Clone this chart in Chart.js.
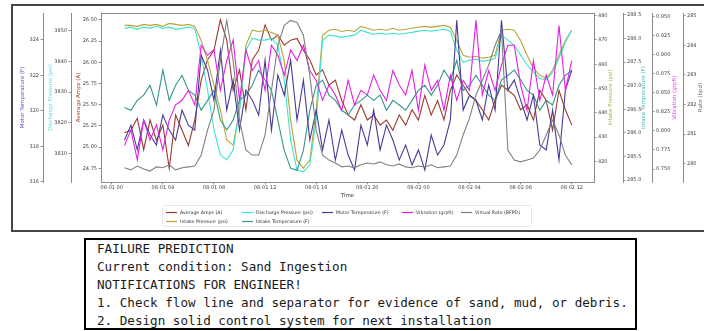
<!DOCTYPE html>
<html><head><meta charset="utf-8">
<script src="https://cdn.jsdelivr.net/npm/chart.js@4"></script>
<style>
html,body{margin:0;padding:0;background:#fff;overflow:hidden;width:704px;height:331px;}
#frame{position:absolute;left:11px;top:4px;width:700px;height:228px;border:2.5px solid #454545;box-sizing:border-box;}
#wrap{position:absolute;left:0;top:0;width:704px;height:232px;}
#note{position:absolute;left:84px;top:238px;width:553px;height:92px;border:2px solid #000;box-sizing:border-box;font-family:'DejaVu Sans Mono',monospace;font-size:12.6px;line-height:18px;padding:0 0 0 11px;color:#1a1a1a;white-space:pre;}
</style></head>
<body>
<div id="frame"></div>
<div id="wrap"><canvas id="c" width="704" height="232"></canvas></div>
<div id="note">FAILURE PREDICTION
Current condition: Sand Ingestion
NOTIFICATIONS FOR ENGINEER!
1. Check flow line and separator for evidence of sand, mud, or debris.
2. Design solid control system for next installation</div>
<script>
// ---- data (hours since 08-01 00:00) ----
const hours = [1,1.5,2,2.5,3,3.5,4,4.5,5,5.5,6,6.5,7,7.5,8,8.5,9,9.5,10,10.5,11,11.5,12,12.5,13,13.5,14,14.5,15,15.5,16,16.5,17,17.5,18,18.5,19,19.5,20,20.5,21,21.5,22,22.5,23,23.5,24,24.5,25,25.5,26,26.5,27,27.5,28,28.5,29,29.5,30,30.5,31,31.5,32,32.5,33,33.5,34,34.5,35,35.5,36];
const tickHours = [0,4,8,12,16,20,24,28,32,36];
const tickLabels = ['08-01 00','08-01 04','08-01 08','08-01 12','08-01 16','08-01 20','08-02 00','08-02 04','08-02 08','08-02 12'];

const averageAmps = [25.17,25.20,25.34,24.97,25.32,25.08,25.26,24.75,25.38,25.20,25.02,25.32, 25.79,26.03,26.14,26.50,26.26,25.67,25.91,25.44,26.03,26.14,26.44,26.26, 26.32,26.20,26.26,26.28,26.14,26.03,25.85,25.91,25.73,25.79,25.55,25.38, 25.32,25.50,25.32,25.38,25.26,25.32,25.20,25.38,25.26,25.44,25.32,25.61, 25.38,25.55,25.32,25.67,25.85,25.73,25.61,25.55,25.44,25.32,25.55,25.73, 25.67,25.61,25.44,25.50,25.32,25.67,25.55,25.20,25.67,25.44,25.26];
const intakePressure = [476.0,476.0,475.6,476.4,476.0,476.4,475.6,476.8,476.4,476.0,476.4,475.6, 469.8,461.6,451.4,441.1,428.8,426.7,441.1,467.8,474.0,473.5,474.0,473.1, 471.9,461.6,437.0,420.5,417.2,420.5,441.1,471.9,474.0,474.4,473.5,474.0, 473.5,475.6,474.8,474.0,474.4,474.0,474.8,474.0,474.4,474.8,475.2,475.6, 475.2,475.6,476.0,475.2,469.8,463.7,462.9,463.3,462.5,462.9,463.7,474.0, 474.4,474.0,469.8,463.7,458.3,455.5,454.2,457.5,463.7,469.8,474.0];
const dischargePressure = [3850.7,3851.1,3850.4,3851.1,3850.7,3851.4,3850.7,3851.1,3850.4,3850.7,3851.1,3850.7, 3842.0,3830.6,3817.7,3809.6,3808.0,3811.2,3824.2,3843.6,3847.5,3846.9,3846.9,3847.5, 3845.2,3833.9,3814.4,3804.7,3804.1,3806.3,3820.9,3846.9,3848.5,3848.2,3847.8,3848.2, 3848.5,3850.1,3849.4,3848.8,3849.1,3848.8,3849.1,3848.8,3849.1,3849.4,3849.8,3850.1, 3849.8,3850.1,3850.4,3849.8,3843.6,3839.7,3840.4,3840.7,3840.0,3840.4,3841.0,3848.5, 3846.9,3845.2,3842.0,3838.8,3836.5,3834.5,3833.9,3836.5,3841.0,3846.2,3850.1];
const intakeTemperature = [286.54,286.48,286.69,286.80,287.01,286.59,287.33,286.69,287.01,287.22,286.90,286.80, 286.48,286.69,286.90,286.27,286.06,286.27,286.69,286.80,287.01,287.33,287.12,286.90, 286.27,285.63,285.25,285.21,285.63,286.48,287.01,287.12,286.80,286.69,286.48,286.38, 286.59,286.69,286.80,286.69,286.80,286.48,286.69,286.59,286.48,286.69,286.90,287.01, 286.80,287.01,287.33,287.12,287.54,286.90,287.01,287.22,287.01,286.80,286.69,287.12, 287.22,287.33,287.12,286.90,286.80,286.48,286.69,286.59,287.01,287.22,287.33];
const motorTemperature = [318.35,319.19,317.79,319.48,318.63,318.07,319.76,318.91,318.35,320.04,319.19,318.91, 323.14,322.29,320.60,323.42,320.04,321.73,318.91,321.17,320.60,319.76,322.86,318.91, 322.01,320.88,322.86,319.48,321.73,318.35,320.04,317.79,319.48,317.22,318.91,317.50, 316.66,319.19,318.07,320.04,317.79,319.19,318.35,317.22,318.07,316.94,317.79,316.66, 318.63,317.50,318.07,319.48,325.11,320.04,320.88,320.60,319.48,321.45,320.04,325.11, 321.17,321.73,320.60,319.48,320.88,318.07,317.79,320.04,317.22,321.17,322.29];
const vibration = [0.781,0.801,0.762,0.814,0.788,0.808,0.775,0.814,0.834,0.840,0.853,0.834, 0.912,0.899,0.906,0.853,0.892,0.919,0.840,0.906,0.879,0.892,0.853,0.912, 0.899,0.873,0.906,0.892,0.912,0.879,0.866,0.840,0.860,0.847,0.827,0.866, 0.834,0.853,0.847,0.873,0.853,0.840,0.879,0.860,0.847,0.879,0.827,0.886, 0.853,0.866,0.827,0.873,0.840,0.866,0.853,0.945,0.847,0.879,0.853,0.886, 0.912,0.912,0.860,0.827,0.892,0.840,0.873,0.847,0.938,0.853,0.892];
const virtualRate = [279.86,279.79,279.92,279.82,279.75,279.89,279.86,279.96,279.79,279.86,279.89,279.92, 280.29,281.14,281.81,283.49,284.84,283.49,281.47,280.46,280.29,280.29,280.97,282.48, 284.00,284.67,284.84,284.77,284.34,282.99,281.14,280.29,280.12,280.02,279.89,279.92, 279.86,279.96,280.02,279.99,280.06,279.96,279.92,279.99,279.89,279.86,279.92,279.89, 279.96,279.86,279.89,279.92,280.29,280.97,281.54,282.31,282.82,283.33,284.00,284.50, 280.46,280.12,280.06,280.12,280.19,280.46,280.97,281.47,280.97,280.29,279.96];

const ampsTicks = [24.75,25.00,25.25,25.50,25.75,26.00,26.25,26.50];
const dischargeTicks = [3810,3820,3830,3840,3850];
const motorTicks = [316,318,320,322,324];
const intakePTicks = [420,430,440,450,460,470,480];
const intakeTTicks = [285.0,285.5,286.0,286.5,287.0,287.5,288.0,288.5];
const vibTicks = [0.750,0.775,0.800,0.825,0.850,0.875,0.900,0.925,0.950];
const rateTicks = [280,281,282,283,284,285];

const seriesNames = ['Average Amps (A)','Intake Pressure (psi)','Discharge Pressure (psi)','Intake Temperature (F)','Motor Temperature (F)','Vibration (grpft)','Virtual Rate (BFPD)'];
const seriesValues = [averageAmps,intakePressure,dischargePressure,intakeTemperature,motorTemperature,vibration,virtualRate];
const seriesAxes = ['yAmps','yIP','yDP','yIT','yMT','yVib','yRate'];
const seriesColors = ['#9b3a30','#b9a53a','#3fe3d2','#36958c','#463c98','#e61ee6','#808080'];

// ---- chart ----
const FONT = '"DejaVu Sans", sans-serif';
function yAxis(pos, weight, min, max, tickVals, dec, width){
  return {
    type:'linear', position:pos, weight:weight, min:min, max:max,
    afterBuildTicks:(s)=>{ s.ticks = tickVals.map(v=>({value:v})); },
    afterFit:(s)=>{ s.width = width; },
    ticks:{ color:'#444', font:{family:FONT,size:5}, padding:1.5, callback:(v)=>Number(v).toFixed(dec) },
    grid:{ display:true, drawOnChartArea:false, drawTicks:true, tickLength:2.5, color:'#777', lineWidth:0.8 },
    border:{ display:true, color:'#8a8a8a', width:1 },
    title:{ display:false }
  };
}

const axisTitles = [
  {id:'yMT', text:'Motor Temperature (F)', color:'#5a52c8', dx:-20},
  {id:'yDP', text:'Discharge Pressure (psi)', color:'#4fe6e6', dx:-20.5},
  {id:'yAmps', text:'Average Amps (A)', color:'#a0452f', dx:-22},
  {id:'yIP', text:'Intake Pressure (psi)', color:'#b5b040', dx:17},
  {id:'yIT', text:'Intake Temperature (F)', color:'#3fb7b4', dx:21},
  {id:'yVib', text:'Vibration (grpft)', color:'#e53ee5', dx:23},
  {id:'yRate', text:'Rate (bpd)', color:'#707070', dx:18}
];
const legendCells = [
  {ds:0,col:0,row:0},{ds:1,col:0,row:1},{ds:2,col:1,row:0},{ds:3,col:1,row:1},
  {ds:4,col:2,row:0},{ds:5,col:3,row:0},{ds:6,col:4,row:0}
];
const legendColX = [166,242,322,402,461];
const legendRowY = [212.5,221.5];

const decor = {
  id:'decor',
  afterDraw(chart){
    const ctx = chart.ctx, a = chart.chartArea;
    ctx.save();
    ctx.strokeStyle = '#8a8a8a'; ctx.lineWidth = 1;
    ctx.beginPath(); ctx.moveTo(a.left, a.top+0.5); ctx.lineTo(a.right, a.top+0.5); ctx.stroke();
    ctx.font = '5.5px ' + FONT;
    ctx.textAlign = 'center'; ctx.textBaseline = 'middle';
    axisTitles.forEach(t=>{
      const s = chart.scales[t.id];
      const x = (s.position === 'left' ? s.right : s.left) + t.dx;
      ctx.save(); ctx.translate(x, (a.top+a.bottom)/2); ctx.rotate(-Math.PI/2);
      ctx.fillStyle = t.color; ctx.fillText(t.text, 0, 0); ctx.restore();
    });
    ctx.fillStyle = '#333';
    ctx.fillText('Time', (a.left+a.right)/2, 195.5);
    // legend frame
    ctx.strokeStyle = '#e2e2e2'; ctx.lineWidth = 0.8;
    ctx.beginPath();
    if (ctx.roundRect) ctx.roundRect(162.5, 205.5, 369, 21, 2); else ctx.rect(162.5,205.5,369,21);
    ctx.stroke();
    ctx.font = '4.7px ' + FONT;
    ctx.textAlign = 'left';
    legendCells.forEach(c=>{
      const x = legendColX[c.col], y = legendRowY[c.row];
      ctx.strokeStyle = seriesColors[c.ds]; ctx.lineWidth = 1.2;
      ctx.beginPath(); ctx.moveTo(x, y); ctx.lineTo(x+11, y); ctx.stroke();
      ctx.fillStyle = '#333';
      ctx.fillText(seriesNames[c.ds], x+14, y);
    });
    ctx.restore();
  }
};

const datasets = seriesValues.map((arr,i)=>({
  label: seriesNames[i],
  data: hours.map((h,j)=>({x:h, y:arr[j]})),
  yAxisID: seriesAxes[i],
  borderColor: seriesColors[i],
  backgroundColor: seriesColors[i],
  borderWidth: 1.1,
  pointRadius: 0,
  tension: 0,
  fill: false,
  order: 7 - i
}));

new Chart(document.getElementById('c'), {
  type:'line',
  data:{ datasets },
  options:{
    responsive:false, animation:false, devicePixelRatio:1,
    layout:{ padding:{ left:12, right:0, top:13, bottom:0 } },
    plugins:{ legend:{display:false}, tooltip:{enabled:false} },
    scales:{
      x:{
        type:'linear', position:'bottom', min:-0.84, max:37.74,
        afterBuildTicks:(s)=>{ s.ticks = tickHours.map(v=>({value:v})); },
        afterFit:(s)=>{ s.height = 50; },
        ticks:{ color:'#444', font:{family:FONT,size:5}, padding:0.5, maxRotation:0, autoSkip:false,
          callback:(v)=>{ const k = tickHours.indexOf(v); return k>=0 ? tickLabels[k] : ''; } },
        grid:{ display:true, drawOnChartArea:false, drawTicks:true, tickLength:2.5, color:'#777', lineWidth:0.8 },
        border:{ display:true, color:'#8a8a8a', width:1 }
      },
      yAmps: yAxis('left',0,24.59,26.58,ampsTicks,2,30),
      yDP: yAxis('left',1,3800.8,3855.7,dischargeTicks,0,28),
      yMT: yAxis('left',2,315.98,325.52,motorTicks,0,31),
      yIP: yAxis('right',0,411.5,481.1,intakePTicks,0,29),
      yIT: yAxis('right',1,284.96,288.54,intakeTTicks,1,29),
      yVib: yAxis('right',2,0.733,0.9543,vibTicks,3,31),
      yRate: yAxis('right',3,279.38,285.09,rateTicks,0,21)
    }
  },
  plugins:[decor]
});
</script>
</body></html>
